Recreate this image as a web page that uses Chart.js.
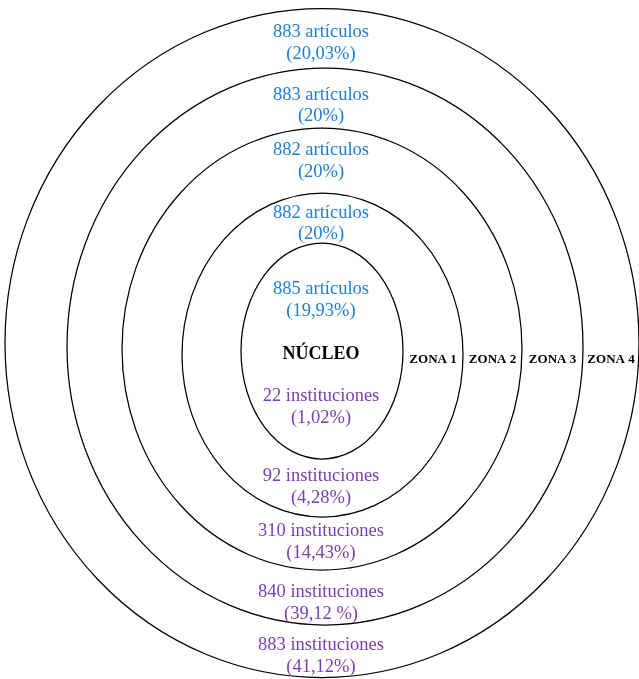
<!DOCTYPE html>
<html lang="es">
<head>
<meta charset="utf-8">
<title>Zonas de Bradford</title>
<script src="https://cdn.jsdelivr.net/npm/chart.js@4.4.1/dist/chart.umd.min.js"></script>
<style>
  html, body { margin: 0; padding: 0; background: #fff; }
  #wrap { width: 639px; height: 679px; }
</style>
</head>
<body>
<div id="wrap"><canvas id="zonas" width="639" height="679"></canvas></div>
<script>
// datos por zona (de dentro hacia fuera)
const zonas = ['NÚCLEO', 'ZONA 1', 'ZONA 2', 'ZONA 3', 'ZONA 4'];
const articulos = [885, 882, 882, 883, 883];
const pctArticulos = ['19,93%', '20%', '20%', '20%', '20,03%'];
const instituciones = [22, 92, 310, 840, 883];
const pctInstituciones = ['1,02%', '4,28%', '14,43%', '39,12 %', '41,12%'];

// geometría de las elipses (unidades de los ejes, centro = 0,0)
const centroX = [0, 0.5, 0, 3, 0];
const centroY = [0, -4, 2, 4.5, 8];
const radioX = [81, 140.5, 200, 258, 317];
const radioY = [108, 162, 221, 278.5, 334.5];
// posición vertical de las etiquetas
const yArticulos = [51, 127.5, 190, 245.5, 308];
const yInstituciones = [-56, -136, -191, -252, -305];
const yNucleo = -3;
const yZona = -9;

const AZUL = '#1f80d2';
const MORADO = '#7a3fae';
const SERIF = '"Liberation Serif", "DejaVu Serif", serif';

const elipses = {
  id: 'elipses',
  afterDatasetsDraw(chart) {
    const { ctx, scales: { x, y } } = chart;
    const meta = chart.getDatasetMeta(0);
    ctx.save();
    ctx.strokeStyle = '#000';
    ctx.lineWidth = 1.25;
    meta.data.forEach((pt, i) => {
      const rx = x.getPixelForValue(centroX[i] + radioX[i]) - pt.x;
      const ry = pt.y - y.getPixelForValue(centroY[i] + radioY[i]);
      ctx.beginPath();
      ctx.ellipse(pt.x, pt.y, rx, ry, 0, 0, Math.PI * 2);
      ctx.stroke();
    });

    ctx.textAlign = 'center';
    ctx.textBaseline = 'middle';
    const cx = x.getPixelForValue(-1);
    const dos = (l1, l2, yv, color) => {
      const py = y.getPixelForValue(yv);
      ctx.fillStyle = color;
      ctx.font = '18.5px ' + SERIF;
      ctx.fillText(l1, cx, py - 10.75);
      ctx.fillText('(' + l2 + ')', cx, py + 10.75);
    };
    for (let i = 0; i < zonas.length; i++) {
      dos(articulos[i] + ' artículos', pctArticulos[i], yArticulos[i], AZUL);
      dos(instituciones[i] + ' instituciones', pctInstituciones[i], yInstituciones[i], MORADO);
    }

    // nombres de zona
    ctx.fillStyle = '#000';
    ctx.font = 'bold 18px ' + SERIF;
    ctx.fillText(zonas[0], cx, y.getPixelForValue(yNucleo));
    ctx.font = 'bold 13px ' + SERIF;
    const zy = y.getPixelForValue(yZona);
    for (let i = 1; i < zonas.length; i++) {
      const a = x.getPixelForValue(centroX[i - 1] + radioX[i - 1]);
      const b = x.getPixelForValue(centroX[i] + radioX[i]);
      ctx.fillText(zonas[i], (a + b) / 2, zy);
    }
    ctx.restore();
  }
};

new Chart(document.getElementById('zonas'), {
  type: 'scatter',
  data: {
    datasets: [{
      label: 'Zonas',
      data: centroX.map((v, i) => ({ x: v, y: centroY[i] })),
      pointRadius: 0,
      pointHoverRadius: 0
    }]
  },
  options: {
    responsive: false,
    animation: false,
    layout: { padding: 0 },
    plugins: { legend: { display: false }, tooltip: { enabled: false } },
    scales: {
      x: { type: 'linear', min: -322, max: 317, display: false },
      y: { type: 'linear', min: -328, max: 351, display: false }
    }
  },
  plugins: [elipses]
});
</script>
</body>
</html>
